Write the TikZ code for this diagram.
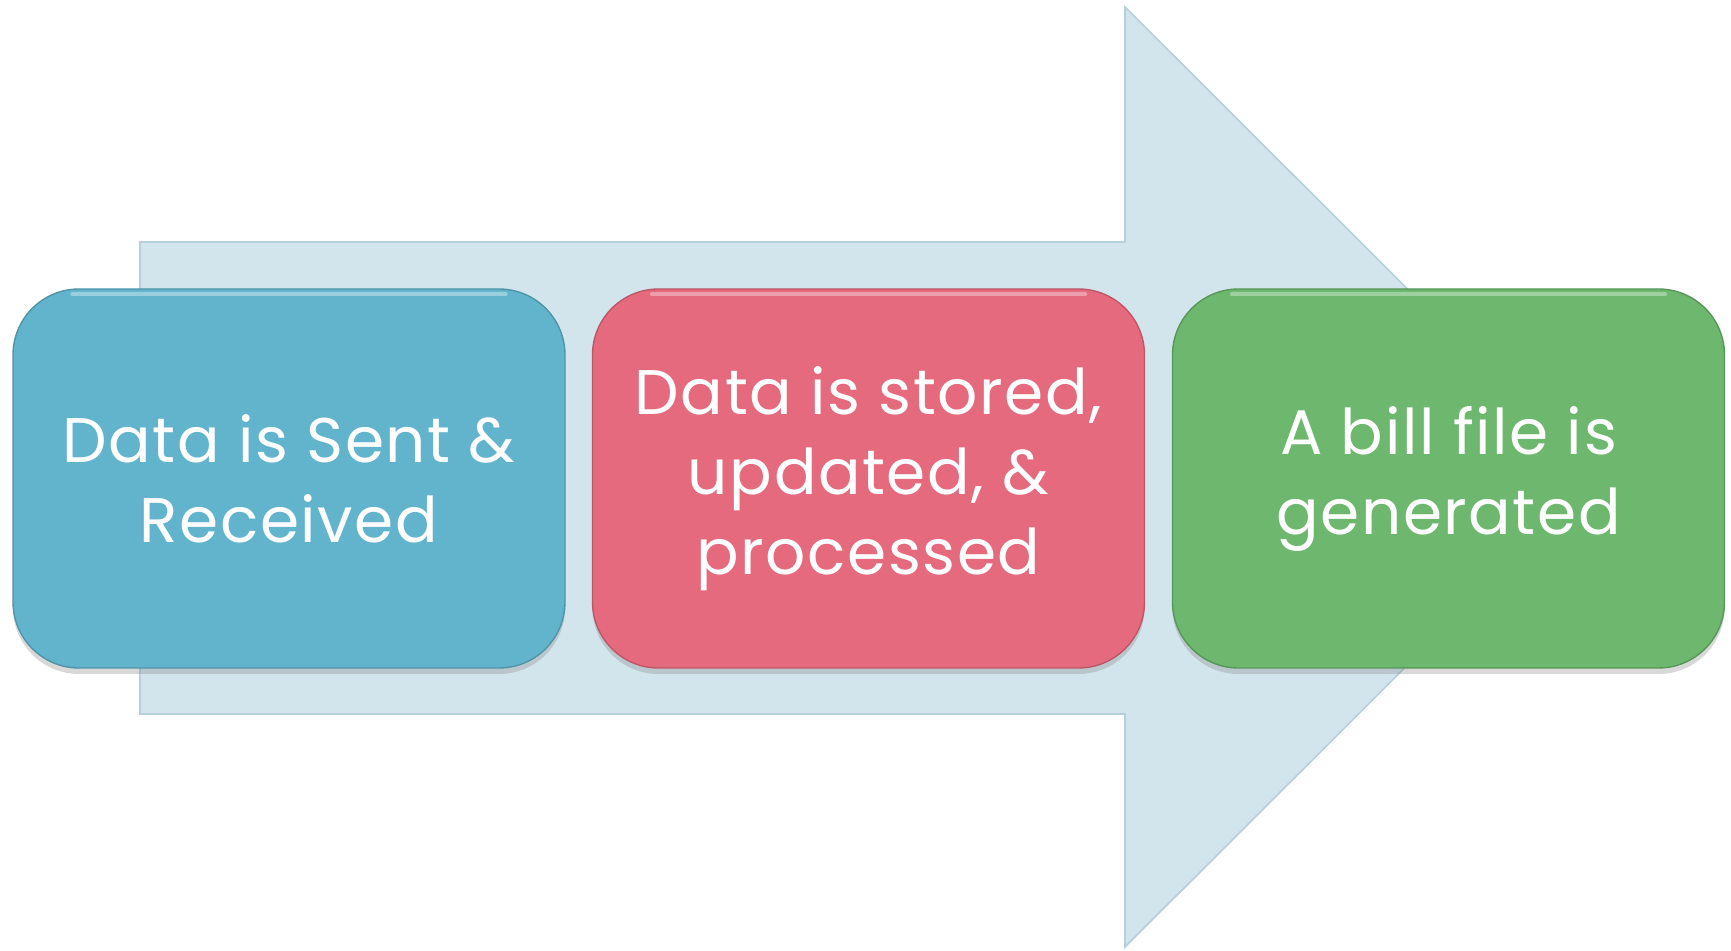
\documentclass[tikz,border=0pt]{standalone}
\usepackage{fontspec}
\setmainfont{Poppins}[LetterSpace=2.5]
\usetikzlibrary{shadows}
\definecolor{arrowfill}{HTML}{D3E5EC}
\definecolor{arrowline}{HTML}{B5D0DA}
\definecolor{cblue}{HTML}{62B4CC}
\definecolor{cred}{HTML}{E66A7E}
\definecolor{cgreen}{HTML}{6DB76E}
\begin{document}
\begin{tikzpicture}[x=0.5pt,y=-0.5pt,
  stepbox/.style={draw=#1!82!black, line width=0.7pt, fill=#1, rounded corners=33pt,
    minimum width=276pt, minimum height=189.5pt, inner sep=0pt,
    text=white, align=center, font=\fontsize{31.5pt}{40pt}\selectfont,
    drop shadow={shadow xshift=0pt, shadow yshift=-3pt, opacity=0.3}},
  hilite/.style={draw=white, opacity=0.35, line width=2pt, line cap=round}]
\useasboundingbox (0,0) rectangle (1731,951);
\fill[white] (0,0) rectangle (1731,951);
% big arrow
\draw[fill=arrowfill, draw=arrowline, line width=0.8pt]
  (140,242) -- (1125,242) -- (1125,7) -- (1596,477) -- (1125,947) -- (1125,714) -- (140,714) -- cycle;
% boxes
\node[stepbox=cblue] (b1) at (289,478.5) {Data is Sent \&\\Received};
\node[stepbox=cred] (b2) at (868.5,478.5) {Data is stored,\\updated, \&\\processed};
\node[stepbox=cgreen] (b3) at (1448.5,478.5) {A bill file is\\generated};
% highlights
\foreach \b in {b1,b2,b3}{
  \draw[hilite] ([shift={(30pt,-3pt)}]\b.north west) -- ([shift={(-30pt,-3pt)}]\b.north east);
}
\end{tikzpicture}
\end{document}
